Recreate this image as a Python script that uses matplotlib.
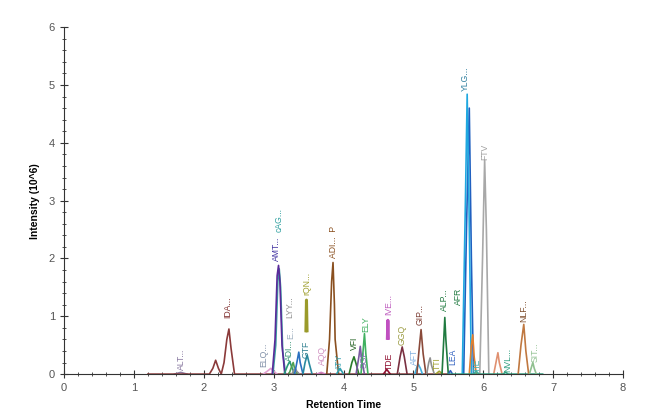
import matplotlib
matplotlib.use('Agg')
import matplotlib.pyplot as plt
from matplotlib.ticker import MultipleLocator

plt.rcParams['font.family'] = ['Liberation Sans', 'DejaVu Sans']

# chromatogram traces: retention times, intensities (10^6), colours
trace_rt = [
    [1.58, 1.67, 1.76],
    [1.2, 2.08, 2.13, 2.17, 2.21, 2.25, 2.29, 2.33, 2.36, 2.39, 2.44, 5.5],
    [2.85, 2.92, 2.96, 3.0, 3.05],
    [2.99, 3.03, 3.06, 3.08, 3.1, 3.13, 3.17],
    [2.98, 3.02, 3.05, 3.07, 3.09, 3.12, 3.16],
    [3.15, 3.2, 3.23, 3.26, 3.3],
    [3.22, 3.26, 3.28, 3.3, 3.34],
    [3.26, 3.29, 3.31, 3.33, 3.37],
    [3.3, 3.34, 3.36, 3.38, 3.42],
    [3.42, 3.45, 3.48, 3.51, 3.55],
    [3.462, 3.47, 3.478],
    [3.62, 3.68, 3.74],
    [3.76, 3.8, 3.83, 3.85, 3.87, 3.88, 3.93],
    [3.9, 3.95, 4.0],
    [4.08, 4.12, 4.15, 4.18, 4.22],
    [4.18, 4.22, 4.24, 4.26, 4.3],
    [4.25, 4.28, 4.3, 4.32, 4.35],
    [4.57, 4.62, 4.67],
    [4.628, 4.635, 4.642],
    [4.77, 4.81, 4.84, 4.87, 4.91],
    [5.02, 5.05, 5.07, 5.1, 5.13],
    [5.05, 5.08, 5.11, 5.14, 5.18],
    [5.19, 5.22, 5.24, 5.26, 5.3],
    [5.32, 5.37, 5.42],
    [5.41, 5.435, 5.45, 5.465, 5.5],
    [5.5, 5.53, 5.56],
    [5.72, 5.76, 5.8, 5.83, 5.86],
    [5.7, 5.745, 5.77, 5.795, 5.83],
    [5.8, 5.83, 5.85, 5.87, 5.9],
    [5.86, 5.9, 5.94],
    [5.95, 5.99, 6.02, 6.045, 6.08],
    [6.15, 6.19, 6.21, 6.23, 6.27],
    [5.5, 6.28, 6.32, 6.36, 6.85],
    [6.5, 6.54, 6.58, 6.61, 6.65],
    [6.66, 6.69, 6.71, 6.73, 6.76],
]
trace_int = [
    [0, 0.03, 0],
    [0, 0, 0.1, 0.24, 0.1, 0, 0.2, 0.6, 0.78, 0.45, 0, 0],
    [0, 0.06, 0.1, 0.05, 0],
    [0, 0.5, 1.6, 1.82, 1.5, 0.4, 0],
    [0, 0.6, 1.7, 1.88, 1.6, 0.5, 0],
    [0, 0.15, 0.22, 0.12, 0],
    [0, 0.14, 0.2, 0.1, 0],
    [0, 0.07, 0.1, 0.05, 0],
    [0, 0.25, 0.38, 0.2, 0],
    [0, 0.2, 0.33, 0.18, 0],
    [0.75, 1.28, 0.75],
    [0, 0.03, 0],
    [0, 0.6, 1.6, 1.93, 1.2, 0.6, 0],
    [0, 0.1, 0],
    [0, 0.2, 0.3, 0.18, 0],
    [0, 0.3, 0.48, 0.25, 0],
    [0, 0.4, 0.7, 0.35, 0],
    [0, 0.08, 0],
    [0.62, 0.93, 0.62],
    [0, 0.3, 0.47, 0.3, 0],
    [0, 0.12, 0.17, 0.1, 0],
    [0, 0.4, 0.77, 0.35, 0],
    [0, 0.2, 0.28, 0.15, 0],
    [0, 0.05, 0],
    [0, 0.6, 0.98, 0.6, 0],
    [0, 0.06, 0],
    [0, 2.5, 4.6, 2.0, 0],
    [0, 3.0, 4.84, 3.0, 0],
    [0, 0.5, 0.68, 0.3, 0],
    [0, 0.05, 0],
    [0, 2.0, 3.7, 2.5, 0],
    [0, 0.25, 0.37, 0.2, 0],
    [0, 0, 0.03, 0, 0],
    [0, 0.5, 0.86, 0.4, 0],
    [0, 0.12, 0.2, 0.1, 0],
]
trace_color = [
    '#8c7aa0', '#8b3a3a', '#e0a0d0', '#3aa0a0', '#5a2a9a', '#2a9a7a',
    '#50a050', '#909090', '#2a70c0', '#2a8aa0', '#9a9a2a', '#d080c0',
    '#8a5020', '#30a0b0', '#2a7a2a', '#7a5aa0', '#40b060', '#901030',
    '#c050c0', '#7a3040', '#40b0e0', '#8a4a3a', '#909090', '#a0a030',
    '#207a40', '#3060c0', '#2060c0', '#20a8e0', '#e08030', '#40b0a0',
    '#a8a8a8', '#e09070', '#30a080', '#c07840', '#90c090',
]

# peak labels
label_text = ['ALT...', 'IDA...', 'ELQ...', 'AMT...', 'cAG...', 'ADI...', 'E...',
              'LYY...', 'GTF', 'rQN...', 'AQQ', 'ADI...  P', 'ATY', 'VFI', 'SGF',
              'ELY', 'TDE', 'IVE...', 'GGQ', 'AFT', 'GIP...', 'TTI', 'ALP...',
              'AFR', 'LEA', 'YLG...', 'TIE', 'FTV', 'NVL...', 'NLF...', 'SIT...']
label_rt = [1.68, 2.35, 2.86, 3.04, 3.08, 3.23, 3.25, 3.23, 3.47, 3.47, 3.7,
            3.85, 3.94, 4.15, 4.29, 4.32, 4.66, 4.65, 4.84, 5.02, 5.09, 5.34,
            5.45, 5.64, 5.57, 5.75, 5.92, 6.02, 6.35, 6.58, 6.74]
label_level = [0.07, 0.97, 0.12, 1.95, 2.45, 0.22, 0.6, 0.97, 0.28, 1.37, 0.16,
               2.0, 0.07, 0.42, 0.1, 0.72, 0.07, 1.02, 0.5, 0.16, 0.85, 0.07,
               1.1, 1.19, 0.16, 4.9, 0.04, 3.71, 0.04, 0.9, 0.21]
label_color = ['#8878a0', '#803030', '#8090a8', '#4030a0', '#30a0a0', '#309070',
               '#a0b0c0', '#909090', '#308090', '#a0a030', '#d090c0', '#8a5020',
               '#30a0b0', '#206020', '#8070b0', '#40b060', '#901030', '#c060c0',
               '#9a9a40', '#80b0e0', '#7a3a30', '#a0a030', '#207a40', '#207a40',
               '#3060c0', '#3080a0', '#40b0b0', '#a0a0a0', '#30a080', '#805030',
               '#90c090']

fig = plt.figure(figsize=(6.67, 4.18), dpi=100)
ax = fig.add_axes([0.096, 0.105, 0.838, 0.83])

for t, y, c in zip(trace_rt, trace_int, trace_color):
    lw = 2.2 if len(t) == 3 and y[0] > 0 else 1.2
    ax.plot(t, y, color=c, lw=lw, solid_joinstyle='round')

for s, t, lv, c in zip(label_text, label_rt, label_level, label_color):
    ax.text(t, lv, s, rotation=90, ha='center', va='bottom', fontsize=6.2, color=c)

ax.set_xlim(0, 8)
ax.set_ylim(0, 6)
ax.xaxis.set_major_locator(MultipleLocator(1))
ax.xaxis.set_minor_locator(MultipleLocator(0.2))
ax.yaxis.set_major_locator(MultipleLocator(1))
ax.yaxis.set_minor_locator(MultipleLocator(0.2))
ax.tick_params(which='major', direction='inout', length=6, width=0.8,
               labelsize=8, labelcolor='#555555', colors='#333333')
ax.tick_params(which='minor', direction='inout', length=3, width=0.6, colors='#333333')
for sp in ['top', 'right']:
    ax.spines[sp].set_visible(False)
for sp in ['left', 'bottom']:
    ax.spines[sp].set_color('#333333')
    ax.spines[sp].set_linewidth(0.8)

ax.set_xlabel('Retention Time', fontsize=7.5, fontweight='bold', labelpad=5)
ax.set_ylabel('Intensity (10^6)', fontsize=7.5, fontweight='bold', labelpad=6)

plt.savefig('out.png', dpi=100)
